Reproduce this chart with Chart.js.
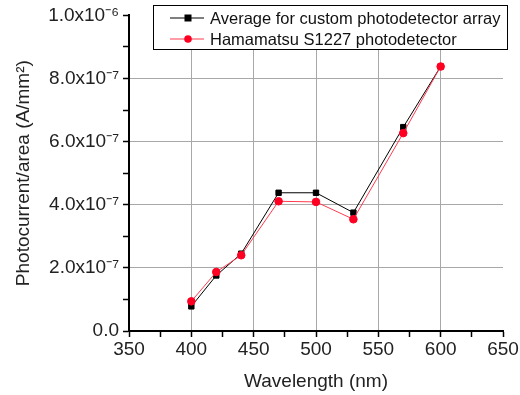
<!DOCTYPE html>
<html><head><meta charset="utf-8">
<script src="https://cdn.jsdelivr.net/npm/chart.js@4/dist/chart.umd.min.js"></script>
<style>html,body{margin:0;padding:0;background:#fff}#wrap{width:520px;height:395px}</style>
</head><body><div id="wrap"><canvas id="c" width="520" height="395"></canvas></div>
<script>
const wavelengths = [400, 420, 440, 470, 500, 530, 570, 600];
const averageArray = [0.78e-7, 1.76e-7, 2.45e-7, 4.38e-7, 4.38e-7, 3.75e-7, 6.46e-7, 8.38e-7];
const hamamatsu = [0.94e-7, 1.87e-7, 2.40e-7, 4.11e-7, 4.09e-7, 3.54e-7, 6.27e-7, 8.38e-7];
const seriesLabels = ['Average for custom photodetector array', 'Hamamatsu S1227 photodetector'];
const xTitle = 'Wavelength (nm)';
const yTitle = 'Photocurrent/area (A/mm\u00B2)';

const sup = {'-':'\u207B','0':'\u2070','1':'\u00B9','2':'\u00B2','3':'\u00B3','4':'\u2074','5':'\u2075','6':'\u2076','7':'\u2077','8':'\u2078','9':'\u2079'};
function fmtY(v){
  if (Math.abs(v) < 1e-12) return '0.0';
  let e = Math.floor(Math.log10(Math.abs(v)) + 1e-9);
  let m = v / Math.pow(10, e);
  return m.toFixed(1) + 'x10' + String(e).split('').map(c=>sup[c]).join('');
}
const FONT = 'Liberation Sans, Arial, sans-serif';
const pts = a => wavelengths.map((x,i)=>({x, y:a[i]}));

const legendPlugin = {
  id:'boxLegend',
  afterDraw(chart){
    const ctx = chart.ctx;
    const x0=153, y0=5, w=354, h=44;
    ctx.save();
    ctx.fillStyle='#fff'; ctx.fillRect(x0,y0,w,h);
    ctx.strokeStyle='#000'; ctx.lineWidth=1; ctx.strokeRect(x0+0.5,y0+0.5,w,h);
    chart.data.datasets.forEach((ds,i)=>{
      const yy = y0 + 13 + i*21;
      ctx.strokeStyle = ds.borderColor; ctx.lineWidth=1;
      ctx.beginPath(); ctx.moveTo(170,yy); ctx.lineTo(204,yy); ctx.stroke();
      ctx.fillStyle = ds.pointBackgroundColor;
      if (ds.pointStyle==='rect'){ ctx.fillRect(188-3.5,yy-3.5,7,7); }
      else { ctx.beginPath(); ctx.arc(188,yy,3.8,0,Math.PI*2); ctx.fill(); }
      ctx.fillStyle='#111'; ctx.font='16.5px '+FONT; ctx.textBaseline='middle';
      ctx.fillText(ds.label, 210, yy+1);
    });
    ctx.restore();
  }
};

new Chart(document.getElementById('c'), {
  type:'line',
  data:{datasets:[
    {label:seriesLabels[0], data:pts(averageArray), borderColor:'#000', backgroundColor:'#000', pointBackgroundColor:'#000', pointBorderColor:'#000', pointStyle:'rect', pointRadius:3.8, borderWidth:1, tension:0, order:2},
    {label:seriesLabels[1], data:pts(hamamatsu), borderColor:'#ff3b4e', backgroundColor:'#ff0022', pointBackgroundColor:'#ff0022', pointBorderColor:'#ff0022', pointStyle:'circle', pointRadius:3.8, borderWidth:1, tension:0, order:1}
  ]},
  options:{
    responsive:false, animation:false, devicePixelRatio:1,
    layout:{padding:{top:15, right:17, left:0, bottom:0}},
    plugins:{legend:{display:false}, tooltip:{enabled:false}},
    scales:{
      x:{type:'linear', min:350, max:650,
        ticks:{stepSize:25, autoSkip:false, maxRotation:0, color:'#222', font:{family:FONT,size:19}, padding:1,
          callback:(v)=> (v%50===0 ? String(v) : '')},
        grid:{drawOnChartArea:true, tickLength:6, tickColor:'#000', tickWidth:1.5,
          color:(c)=>{const v=c.tick&&c.tick.value; return (v%50===0 && v>350 && v<650)?'#a8a8a8':'rgba(0,0,0,0)';}, lineWidth:1},
        border:{color:'#000', width:2},
        title:{display:true, text:xTitle, color:'#222', font:{family:FONT,size:19}, padding:{top:0,bottom:2}},
        afterFit:(s)=>{s.height=64;}
      },
      y:{type:'linear', min:0, max:1e-6,
        ticks:{stepSize:1e-7, autoSkip:false, color:'#222', font:{family:FONT,size:19}, padding:4,
          callback:(v,i)=> (i%2===0 ? fmtY(v) : '')},
        grid:{tickLength:6, tickColor:'#000', tickWidth:1.5,
          color:(c)=>{const i=c.index; return (i%2===0 && i>0 && i<10)?'#a8a8a8':'rgba(0,0,0,0)';}, lineWidth:1},
        border:{color:'#000', width:2},
        title:{display:true, text:yTitle, color:'#222', font:{family:FONT,size:19}, padding:{top:12,bottom:0}},
        afterFit:(s)=>{s.width=129;}
      }
    }
  },
  plugins:[legendPlugin]
});
</script></body></html>
